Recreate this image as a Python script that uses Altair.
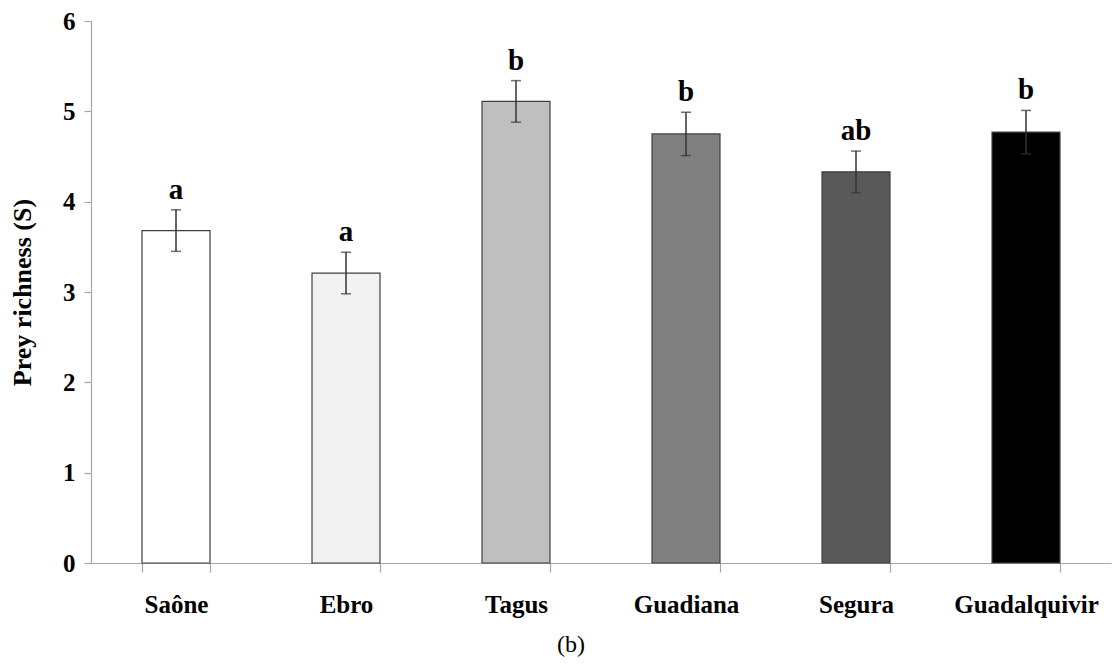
import altair as alt
import pandas as pd

rivers = ["Saône", "Ebro", "Tagus", "Guadiana", "Segura", "Guadalquivir"]
means = [3.68, 3.21, 5.11, 4.75, 4.33, 4.77]
errors = [0.23, 0.23, 0.23, 0.24, 0.23, 0.24]
letters = ["a", "a", "b", "b", "ab", "b"]
fills = ["#ffffff", "#f2f2f2", "#bfbfbf", "#808080", "#595959", "#000000"]

df = pd.DataFrame({
    "river": rivers,
    "mean": means,
    "se": errors,
    "letter": letters,
})
df["lo"] = df["mean"] - df["se"]
df["hi"] = df["mean"] + df["se"]

FONT = "Liberation Serif"

x = alt.X(
    "river:N",
    sort=rivers,
    title=None,
    scale=alt.Scale(paddingInner=0.6, paddingOuter=0.3),
    axis=alt.Axis(
        labelAngle=0,
        labelFont=FONT,
        labelFontSize=25,
        labelFontWeight="bold",
        labelColor="#000000",
        labelPadding=20,
        tickBand="extent",
        tickSize=9,
        tickColor="#a6a6a6",
        domainColor="#a6a6a6",
        tickWidth=1.2,
        domainWidth=1.2,
    ),
)

base = alt.Chart(df)

bars = base.mark_bar(stroke="#404040", strokeWidth=1.2).encode(
    x=x,
    y=alt.Y(
        "mean:Q",
        title="Prey richness (S)",
        scale=alt.Scale(domain=[0, 6]),
        axis=alt.Axis(
            values=[0, 1, 2, 3, 4, 5, 6],
            format="d",
            grid=False,
            labelFont=FONT,
            labelFontSize=25,
            labelFontWeight="bold",
            labelColor="#000000",
            labelPadding=9,
            tickSize=7,
            tickColor="#a6a6a6",
            domainColor="#a6a6a6",
            tickWidth=1.2,
            domainWidth=1.2,
            titleFont=FONT,
            titleFontSize=26,
            titleFontWeight="bold",
            titleColor="#000000",
            titlePadding=27,
        ),
    ),
    fill=alt.Fill("river:N", sort=rivers,
                  scale=alt.Scale(domain=rivers, range=fills), legend=None),
)

err = base.mark_rule(color="#333333", strokeWidth=1.5).encode(
    x=alt.X("river:N", sort=rivers),
    y="lo:Q",
    y2="hi:Q",
)

cap_hi = base.mark_tick(color="#333333", size=10, thickness=1.5).encode(
    x=alt.X("river:N", sort=rivers),
    y="hi:Q",
)
cap_lo = base.mark_tick(color="#333333", size=10, thickness=1.5).encode(
    x=alt.X("river:N", sort=rivers),
    y="lo:Q",
)

labels = base.mark_text(
    font=FONT, fontSize=29, fontWeight="bold", color="#000000",
    baseline="alphabetic", dy=-11,
).encode(
    x=alt.X("river:N", sort=rivers),
    y="hi:Q",
    text="letter:N",
)

chart = alt.layer(bars, err, cap_hi, cap_lo, labels).properties(
    width=1020,
    height=542,
    autosize=alt.AutoSizeParams(type="none"),
    padding={"left": 83, "top": 13, "right": 1, "bottom": 97},
    title=alt.TitleParams(
        text="(b)",
        orient="bottom",
        anchor="middle",
        font=FONT,
        fontSize=24,
        fontWeight="normal",
        color="#000000",
        offset=16,
        dx=-30,
    ),
).configure(background="#ffffff").configure_view(strokeWidth=0, stroke="transparent")

chart.save("out.html", embed_options={"renderer": "svg", "actions": False})
